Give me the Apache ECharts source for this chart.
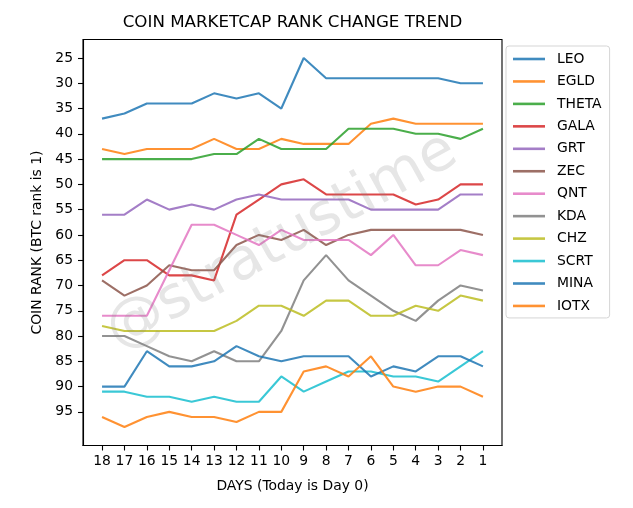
<!DOCTYPE html>
<html>
<head>
<meta charset="utf-8">
<script src="https://cdn.jsdelivr.net/npm/echarts@6/dist/echarts.min.js"></script>
<style>
html,body{margin:0;padding:0;background:#fff;}
#chart{width:633px;height:508px;}
</style>
</head>
<body>
<div id="chart"></div>
<script>
var days = [18,17,16,15,14,13,12,11,10,9,8,7,6,5,4,3,2,1];
var yTicks = [25,30,35,40,45,50,55,60,65,70,75,80,85,90,95];
var coinNames = ['LEO','EGLD','THETA','GALA','GRT','ZEC','QNT','KDA','CHZ','SCRT','MINA','IOTX'];
var LEO   = [37,36,34,34,34,32,33,32,35,25,29,29,29,29,29,29,30,30];
var EGLD  = [43,44,43,43,43,41,43,43,41,42,42,42,38,37,38,38,38,38];
var THETA = [45,45,45,45,45,44,44,41,43,43,43,39,39,39,40,40,41,39];
var GALA  = [68,65,65,68,68,69,56,53,50,49,52,52,52,52,54,53,50,50];
var GRT   = [56,56,53,55,54,55,53,52,53,53,53,53,55,55,55,55,52,52];
var ZEC   = [69,72,70,66,67,67,62,60,61,59,62,60,59,59,59,59,59,60];
var QNT   = [76,76,76,67,58,58,60,62,59,61,61,61,64,60,66,66,63,64];
var KDA   = [80,80,82,84,85,83,85,85,79,69,64,69,72,75,77,73,70,71];
var CHZ   = [78,79,79,79,79,79,77,74,74,76,73,73,76,76,74,75,72,73];
var SCRT  = [91,91,92,92,93,92,93,93,88,91,89,87,87,88,88,89,86,83];
var MINA  = [90,90,83,86,86,85,82,84,85,84,84,84,88,86,87,84,84,86];
var IOTX  = [96,98,96,95,96,96,97,95,95,87,86,88,84,90,91,90,90,92];
var seriesValues = [LEO,EGLD,THETA,GALA,GRT,ZEC,QNT,KDA,CHZ,SCRT,MINA,IOTX];
var colors = ['#1f77b4','#ff7f0e','#2ca02c','#d62728','#9467bd','#8c564b','#e377c2','#7f7f7f','#bcbd22','#17becf','#1f77b4','#ff7f0e'];

var FONT = 'DejaVu Sans';
var chart = echarts.init(document.getElementById('chart'), null, {renderer:'canvas'});

var series = coinNames.map(function(n, k){
  return {
    name: n,
    type: 'line',
    symbol: 'none',
    data: days.map(function(d,i){ return [d, seriesValues[k][i]]; }),
    lineStyle: {width: 2.1, color: colors[k], opacity: 0.85},
    itemStyle: {color: colors[k], opacity: 0.85},
    emphasis: {disabled: true},
    animation: false
  };
});

chart.setOption({
  animation: false,
  color: colors,
  grid: {left: 83, right: 131, top: 39.5, bottom: 62.5, show: true, borderColor: '#000', borderWidth: 1.1, backgroundColor: 'transparent'},
  xAxis: {
    type: 'value', inverse: true, min: 0.15, max: 18.85,
    name: 'DAYS (Today is Day 0)', nameLocation: 'middle', nameGap: 34,
    nameTextStyle: {fontFamily: FONT, fontSize: 13.9, color: '#000'},
    axisLine: {show: true, onZero: false, lineStyle: {color: '#000', width: 1.1}},
    axisTick: {show: true, length: 5, customValues: days, lineStyle: {color: '#000', width: 1.1}},
    axisLabel: {customValues: days, margin: 9, fontFamily: FONT, fontSize: 13.9, color: '#000'},
    splitLine: {show: false}
  },
  yAxis: {
    type: 'value', inverse: true, min: 21.35, max: 101.65,
    name: 'COIN RANK (BTC rank is 1)', nameLocation: 'middle', nameGap: 34, nameRotate: 90,
    nameTextStyle: {fontFamily: FONT, fontSize: 13.9, color: '#000'},
    axisLine: {show: true, onZero: false, lineStyle: {color: '#000', width: 1.1}},
    axisTick: {show: true, length: 5, customValues: yTicks, lineStyle: {color: '#000', width: 1.1}},
    axisLabel: {customValues: yTicks, margin: 10, fontFamily: FONT, fontSize: 13.9, color: '#000'},
    splitLine: {show: false}
  },
  legend: {
    orient: 'vertical', left: 506, top: 46,
    padding: [6, 8, 5, 7],
    icon: 'rect',
    itemWidth: 32, itemHeight: 2.6, itemGap: 8.45,
    borderColor: '#d5d5d5', borderWidth: 1, borderRadius: 3,
    textStyle: {fontFamily: FONT, fontSize: 13.9, color: '#000', lineHeight: 14, padding: [0,0,0,7]},
    data: coinNames
  },
  graphic: [
    {type: 'text', x: 292.5, y: 22.5, z: 10,
     style: {text: 'COIN MARKETCAP RANK CHANGE TREND', fontFamily: FONT, fontSize: 16.7, fill: '#000', textAlign: 'center', textVerticalAlign: 'middle', verticalAlign: 'middle'}},
    {type: 'text', x: 282, y: 242, rotation: 29 * Math.PI / 180, z: 100, silent: true,
     style: {text: '@stratustime', fontFamily: FONT, fontSize: 58, fill: 'rgba(128,128,128,0.2)', textAlign: 'center', textVerticalAlign: 'middle', verticalAlign: 'middle'}}
  ],
  series: series
});
</script>
</body>
</html>
